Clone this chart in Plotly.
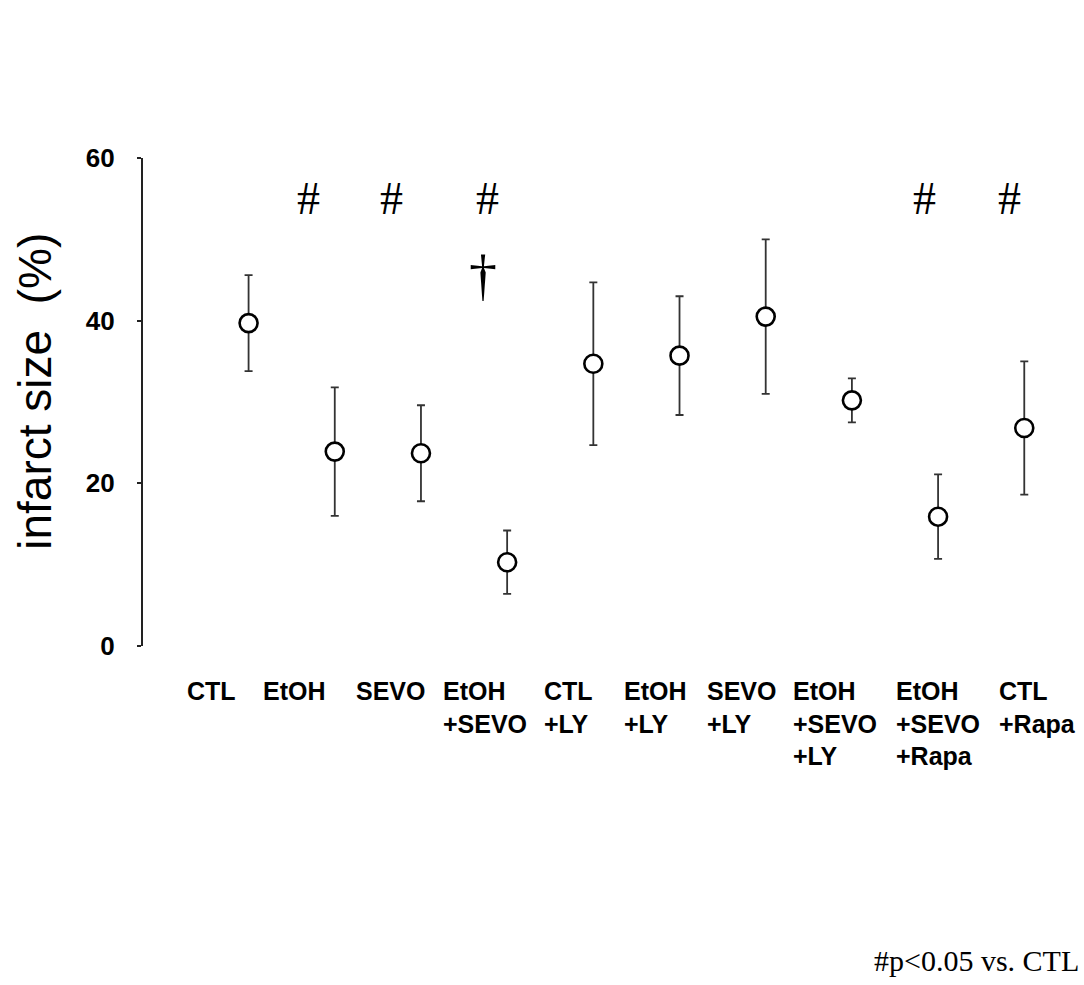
import plotly.graph_objects as go

# ---- data ----
groups = ["CTL", "EtOH", "SEVO", "EtOH<br>+SEVO", "CTL<br>+LY", "EtOH<br>+LY",
          "SEVO<br>+LY", "EtOH<br>+SEVO<br>+LY", "EtOH<br>+SEVO<br>+Rapa", "CTL<br>+Rapa"]
infarct_mean = [39.7, 23.9, 23.7, 10.3, 34.7, 35.7, 40.5, 30.2, 15.9, 26.8]
infarct_sd = [5.9, 7.9, 5.9, 3.9, 10.0, 7.3, 9.5, 2.7, 5.2, 8.2]
hash_groups = [1, 2, 3, 8, 9]          # groups marked '#' (p<0.05 vs CTL)
dagger_groups = [3]                    # groups marked with dagger
y_ticks = [0, 20, 40, 60]

# ---- layout helpers (pixel offsets, not data) ----
label_shift = [-64, -74, -67, -66, -51, -58, -61, -61, -44, -27]
hash_shift = [-26, -29, -20, -14, -15]
dagger_shift = [-24]

x_idx = list(range(len(groups)))

fig = go.Figure()
fig.add_trace(go.Scatter(
    x=x_idx, y=infarct_mean, mode="markers",
    marker=dict(symbol="circle", size=18, color="white",
                line=dict(color="black", width=2.6)),
    error_y=dict(type="data", array=infarct_sd, visible=True,
                 color="#333333", thickness=1.8, width=4),
    showlegend=False, hoverinfo="skip"))

annotations = []
for i, g in enumerate(groups):
    annotations.append(dict(
        x=i, y=-0.060, xref="x", yref="paper", text=g, showarrow=False,
        xanchor="left", yanchor="top", align="left", xshift=label_shift[i],
        font=dict(family="Liberation Sans, Arial", size=25, color="black", weight="bold")))

for k, g in enumerate(hash_groups):
    annotations.append(dict(
        x=g, y=55.0, xref="x", yref="y", text="#", showarrow=False,
        xanchor="center", yanchor="middle", xshift=hash_shift[k],
        font=dict(family="Liberation Serif, Times New Roman", size=46, color="black")))

for k, g in enumerate(dagger_groups):
    annotations.append(dict(
        x=g, y=45.6, xref="x", yref="y", text="†", showarrow=False,
        xanchor="center", yanchor="middle", xshift=dagger_shift[k],
        font=dict(family="Liberation Serif, Times New Roman", size=56, color="black")))

annotations.append(dict(
    x=-0.1148, y=0.523, xref="paper", yref="paper", text="infarct size  (%)",
    textangle=-90, showarrow=False, xanchor="center", yanchor="middle",
    font=dict(family="Liberation Sans, Arial", size=46, color="black")))

annotations.append(dict(
    x=1.0, y=-0.644, xref="paper", yref="paper", text="#p<0.05 vs. CTL",
    showarrow=False, xanchor="right", yanchor="middle", xshift=-3,
    font=dict(family="Liberation Serif, Times New Roman", size=30, color="black")))

fig.update_layout(
    width=1084, height=985,
    margin=dict(l=143, r=0, t=158, b=339, pad=0),
    paper_bgcolor="white", plot_bgcolor="white",
    xaxis=dict(range=[-1.225, 9.693], visible=False, fixedrange=True),
    yaxis=dict(range=[0, 60], tickvals=y_ticks, ticktext=[str(v) for v in y_ticks],
               showline=True, linecolor="#222222", linewidth=2.2,
               ticks="outside", ticklen=4, tickwidth=1.5, tickcolor="#222222",
               showgrid=False, zeroline=False, ticklabelstandoff=17,
               tickfont=dict(family="Liberation Sans, Arial", size=26, color="black",
                             weight="bold")),
    annotations=annotations,
)

fig.write_html("out.html")
